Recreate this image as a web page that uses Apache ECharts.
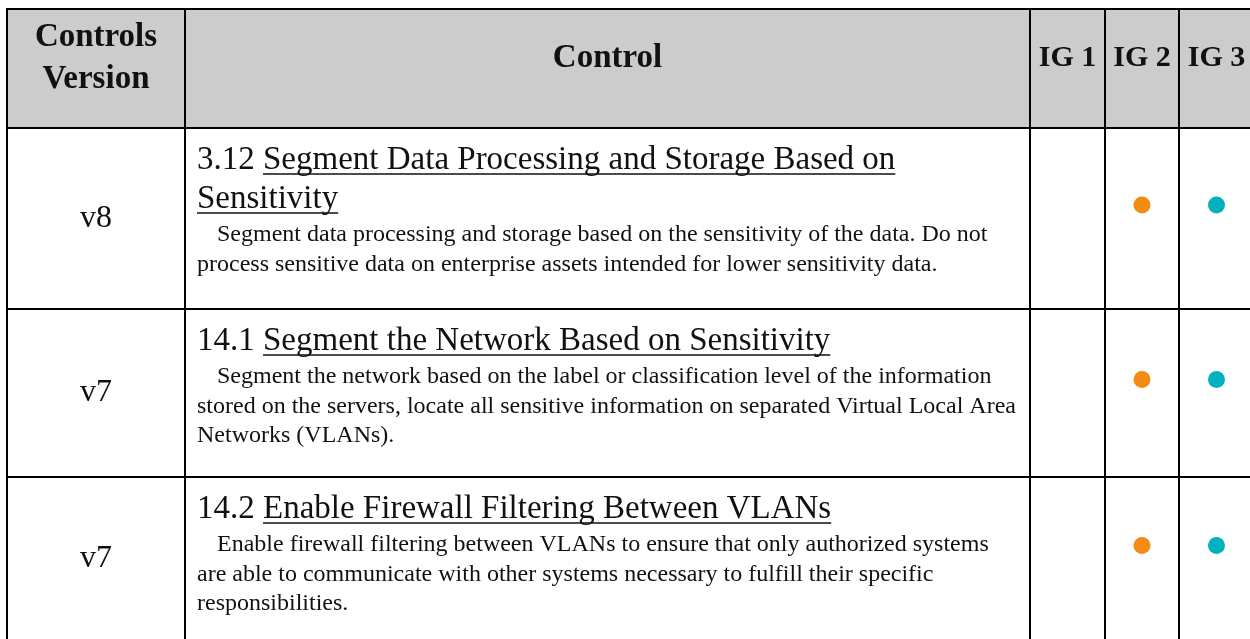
<!DOCTYPE html>
<html>
<head>
<meta charset="utf-8">
<script src="https://cdn.jsdelivr.net/npm/echarts@6/dist/echarts.min.js"></script>
<style>
html,body{margin:0;padding:0;background:#ffffff;}
#main{width:1250px;height:639px;}
</style>
</head>
<body>
<div id="main"></div>
<script>
// ---------- data ----------
const headers = ['Controls\nVersion', 'Control', 'IG 1', 'IG 2', 'IG 3'];
const versions = ['v8', 'v7', 'v7'];
const controlIds = ['3.12', '14.1', '14.2'];
const controlTitles = [
  ['Segment Data Processing and Storage Based on', 'Sensitivity'],
  ['Segment the Network Based on Sensitivity'],
  ['Enable Firewall Filtering Between VLANs']
];
const controlDescriptions = [
  ['Segment data processing and storage based on the sensitivity of the data. Do not',
   'process sensitive data on enterprise assets intended for lower sensitivity data.'],
  ['Segment the network based on the label or classification level of the information',
   'stored on the servers, locate all sensitive information on separated Virtual Local Area',
   'Networks (VLANs).'],
  ['Enable firewall filtering between VLANs to ensure that only authorized systems',
   'are able to communicate with other systems necessary to fulfill their specific',
   'responsibilities.']
];
const ig1 = [false, false, false];
const ig2 = [true, true, true];
const ig3 = [true, true, true];

// ---------- layout (axis units = px) ----------
const LAYOUT = {
  gridLeft: 7, gridTop: 9, gridWidth: 1243, gridHeight: 630,
  colEdges: [0, 178, 1023, 1098, 1172, 1247],
  rowEdges: [0, 119, 300, 468, 632]
};
const STYLE = {
  headerFill: '#cccccc', border: '#000000', text: '#111111',
  headerFont: 'bold 33px "Liberation Serif"',
  igFont: 'bold 30px "Liberation Serif"',
  versionFont: '32px "Liberation Serif"',
  titleFont: '33px "Liberation Serif"',
  descFont: '24px "Liberation Serif"',
  igColors: ['#7f7f7f', '#F28C14', '#03B0BF']
};

const measureCtx = document.createElement('canvas').getContext('2d');
function textWidth(s, font) { measureCtx.font = font; return measureCtx.measureText(s).width; }

function txt(s, x, y, font, align) {
  return {
    type: 'text',
    style: {
      text: s, x: x, y: y, font: font, fill: STYLE.text,
      align: align, verticalAlign: 'middle',
      textAlign: align, textVerticalAlign: 'middle'
    },
    z2: 10
  };
}
function uline(x1, x2, y) {
  return { type: 'line', shape: { x1: x1, y1: y, x2: x2, y2: y },
           style: { stroke: STYLE.text, lineWidth: 1.6 }, z2: 10 };
}

const cellData = [];
for (let r = 0; r <= versions.length; r++) {
  for (let c = 0; c < headers.length; c++) cellData.push([c, r]);
}

function renderCell(params, api) {
  const c = api.value(0), r = api.value(1);
  const p0 = api.coord([LAYOUT.colEdges[c], LAYOUT.rowEdges[r]]);
  const p1 = api.coord([LAYOUT.colEdges[c + 1], LAYOUT.rowEdges[r + 1]]);
  const x = p0[0], y = p0[1], w = p1[0] - p0[0], h = p1[1] - p0[1];
  const children = [{
    type: 'rect', shape: { x: x, y: y, width: w, height: h },
    style: { fill: r === 0 ? STYLE.headerFill : '#ffffff', stroke: STYLE.border, lineWidth: 2 }
  }];
  if (r === 0) {
    const t = txt(headers[c], x + w / 2, y + 49, c >= 2 ? STYLE.igFont : STYLE.headerFont, 'center');
    t.style.lineHeight = 42;
    children.push(t);
  } else {
    const i = r - 1;
    if (c === 0) {
      children.push(txt(versions[i], x + w / 2, y + h / 2, STYLE.versionFont, 'center'));
    } else if (c === 1) {
      const tx = x + 12;
      let cy = y + 32;
      const titles = controlTitles[i];
      titles.forEach(function (line, k) {
        if (k === 0) {
          const prefix = controlIds[i] + ' ';
          const full = prefix + line;
          children.push(txt(full, tx, cy, STYLE.titleFont, 'left'));
          children.push(uline(tx + textWidth(prefix, STYLE.titleFont), tx + textWidth(full, STYLE.titleFont), cy + 14));
        } else {
          children.push(txt(line, tx, cy, STYLE.titleFont, 'left'));
          children.push(uline(tx, tx + textWidth(line, STYLE.titleFont), cy + 14));
        }
        if (k < titles.length - 1) cy += 39;
      });
      cy += 36;
      controlDescriptions[i].forEach(function (line, k) {
        children.push(txt(line, tx + (k === 0 ? 20 : 0), cy, STYLE.descFont, 'left'));
        cy += 29.5;
      });
    }
  }
  return { type: 'group', children: children };
}

const igFlags = [ig1, ig2, ig3];
const dotData = [];
versions.forEach(function (v, i) {
  igFlags.forEach(function (flags, k) {
    if (flags[i]) {
      const cx = (LAYOUT.colEdges[2 + k] + LAYOUT.colEdges[3 + k]) / 2;
      const cy = (LAYOUT.rowEdges[i + 1] + LAYOUT.rowEdges[i + 2]) / 2 - 13.5;
      dotData.push({ value: [cx, cy], itemStyle: { color: STYLE.igColors[k], opacity: 1 } });
    }
  });
});

const chart = echarts.init(document.getElementById('main'), null, { renderer: 'canvas' });
chart.setOption({
  animation: false,
  backgroundColor: '#ffffff',
  grid: { left: LAYOUT.gridLeft, top: LAYOUT.gridTop, width: LAYOUT.gridWidth, height: LAYOUT.gridHeight },
  xAxis: { type: 'value', min: 0, max: LAYOUT.gridWidth, show: false },
  yAxis: { type: 'value', min: 0, max: LAYOUT.gridHeight, inverse: true, show: false },
  series: [
    { type: 'custom', name: 'cells', data: cellData, renderItem: renderCell, clip: false, silent: true,
      encode: { x: -1, y: -1 } },
    { type: 'scatter', name: 'IG', data: dotData, symbol: 'circle', symbolSize: 17, z: 5, silent: true,
      clip: false, itemStyle: { opacity: 1 } }
  ]
});
</script>
</body>
</html>
